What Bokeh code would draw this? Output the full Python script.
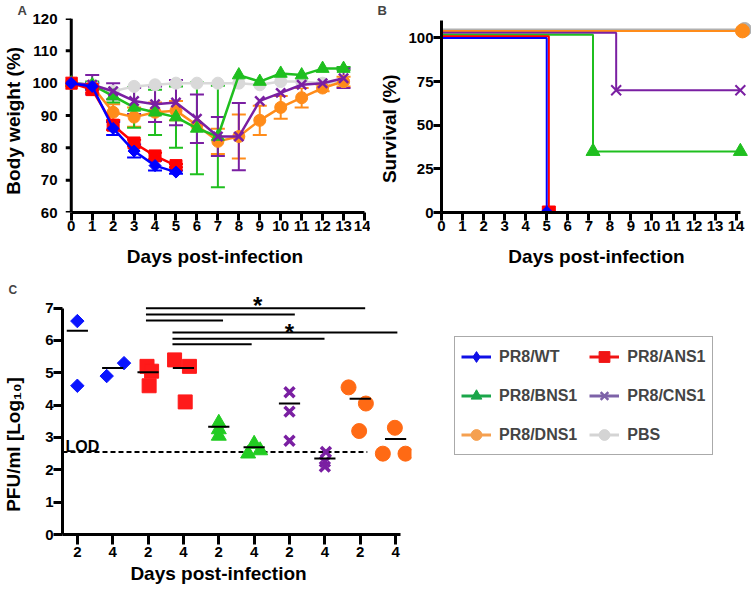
import math
from bokeh.plotting import figure
from bokeh.models import (Range1d, FixedTicker, ColumnDataSource, Whisker, TeeHead,
                          Legend, LegendItem)
from bokeh.layouts import column, row
from bokeh.embed import file_html
from bokeh.resources import INLINE
from bokeh.core.properties import value

FONT = "Liberation Sans"
NB = "\u00a0"  # used to nudge centred axis titles to where the original has them

# ---------------- data ----------------
groups = ["PR8/WT", "PR8/ANS1", "PR8/BNS1", "PR8/CNS1", "PR8/DNS1", "PBS"]

# Panel A: body weight (%) by day post-infection (mean, sd)
days = list(range(14))
a_xticks = list(range(15))
a_yticks = [60, 70, 80, 90, 100, 110, 120]
bw_WT = [100, 99, 86, 79, 74.5, 72.5]
bw_WT_sd = [0, 1, 2, 2, 1.5, 0.5]
bw_ANS1 = [100, 98, 87, 81.5, 77.5, 74.5]
bw_ANS1_sd = [0, 1, 1.5, 1, 1, 0.5]
bw_BNS1 = [100, 99.5, 96, 92.5, 91, 89.5, 86, 83.5, 102.5, 100.5, 103, 102.5, 104.5, 104.5]
bw_BNS1_sd = [0, 1, 2, 6.3, 7, 9.5, 14.2, 15.7, 0, 0, 0, 0, 0, 0.5]
bw_CNS1 = [100, 99.5, 97.5, 94.5, 93.5, 94, 89, 83.5, 83.5, 94.5, 97, 99.5, 100, 101.5]
bw_CNS1_sd = [0, 3, 2.5, 4, 5.5, 7, 7.5, 6, 10.4, 0, 0, 0, 0, 3]
bw_DNS1 = [100, 99, 91, 89.5, 91, 91.5, 87, 82, 83.5, 88.5, 92.5, 95.5, 98.5, 100.5]
bw_DNS1_sd = [0, 1, 2.5, 3, 3, 3, 0, 3.9, 6.8, 4.5, 3.5, 3, 1, 1.5]
bw_PBS = [100, 99.5, 97.5, 99, 99.5, 100, 100, 100, 100, 99.5, 100.5, 100.5, 100, 100.5]
bw_PBS_sd = [0] * 14

# Panel B: survival (%) step curves (staggered as in the original)
b_xticks = list(range(15))
b_yticks = [0, 25, 50, 75, 100]
sv_WT_t, sv_WT_y = [0, 5, 5], [100, 100, 0]
sv_ANS1_t, sv_ANS1_y = [0, 5.1, 5.1], [101, 101, 0]
sv_BNS1_t, sv_BNS1_y = [0, 7.2, 7.2, 14.2], [101.8, 101.8, 35, 35]
sv_CNS1_t, sv_CNS1_y = [0, 8.3, 8.3, 14.2], [103, 103, 70, 70]
sv_DNS1_t, sv_DNS1_y = [0, 14.3], [104, 104]
sv_PBS_t, sv_PBS_y = [0, 14.4], [104.8, 104.8]
sv_WT_mt, sv_WT_my = [5], [0]
sv_ANS1_mt, sv_ANS1_my = [5.1], [0]
sv_BNS1_mt, sv_BNS1_my = [7.2, 14.2], [35, 35]
sv_CNS1_mt, sv_CNS1_my = [8.3, 14.2], [70, 70]
sv_DNS1_mt, sv_DNS1_my = [14.3], [104]
sv_PBS_mt, sv_PBS_my = [14.4], [104.8]

# Panel C: lung titres PFU/ml [Log10]
c_positions = [1, 2, 3, 4, 5, 6, 7, 8, 9, 10]
c_tick_labels = ["2", "4", "2", "4", "2", "4", "2", "4", "2", "4"]
c_yticks = [0, 1, 2, 3, 4, 5, 6, 7]
c_WT_d2, c_WT_d2_off = [6.6, 4.6], [0, 0]
c_WT_d4, c_WT_d4_off = [4.9, 5.3], [-0.17, 0.32]
c_ANS1_d2, c_ANS1_d2_off = [5.2, 5.05, 4.6], [-0.03, 0.1, 0.03]
c_ANS1_d4, c_ANS1_d4_off = [5.4, 5.2, 4.1], [-0.25, 0.17, 0.05]
c_BNS1_d2, c_BNS1_d2_off = [3.45, 3.25, 3.05], [0, 0, 0]
c_BNS1_d4, c_BNS1_d4_off = [2.8, 2.5, 2.6], [0, -0.17, 0.17]
c_CNS1_d2, c_CNS1_d2_off = [4.4, 3.8, 2.9], [0, 0, 0]
c_CNS1_d4, c_CNS1_d4_off = [2.55, 2.25, 2.1], [0.03, 0, 0]
c_DNS1_d2, c_DNS1_d2_off = [4.55, 4.05, 3.2], [-0.33, 0.16, -0.03]
c_DNS1_d4, c_DNS1_d4_off = [3.3, 2.5, 2.5], [-0.02, -0.36, 0.28]
c_means = [6.3, 5.15, 5.02, 5.15, 3.33, 2.7, 4.05, 2.35, 4.2, 2.95]
c_LOD = 2.55
sig_x0 = [2.94, 2.94, 2.94, 3.69, 3.69, 3.69]
sig_x1 = [9.14, 7.15, 5.12, 10.05, 7.99, 5.93]
sig_y = [7.0, 6.8, 6.62, 6.25, 6.05, 5.88]
star_x = [6.1, 7.0]
star_y = [7.08, 6.26]

# ---------------- styles ----------------
col_A = {"PR8/WT": "#0000ff", "PR8/ANS1": "#ff0000", "PR8/BNS1": "#1fbf1f",
         "PR8/CNS1": "#7a1fa2", "PR8/DNS1": "#ff8c1a", "PBS": "#d9d9d9"}
col_C = {"PR8/WT": "#0a14ff", "PR8/ANS1": "#ff1a1a", "PR8/BNS1": "#22cc22",
         "PR8/CNS1": "#7a1fa2", "PR8/DNS1": "#ff6a14", "PBS": "#d9d9d9"}
col_L = {"PR8/WT": "#1010e6", "PR8/ANS1": "#f01414", "PR8/BNS1": "#1aa64a",
         "PR8/CNS1": "#7d62a8", "PR8/DNS1": "#f5a050", "PBS": "#d4d4d4"}
marker = {"PR8/WT": "diamond", "PR8/ANS1": "square", "PR8/BNS1": "triangle",
          "PR8/CNS1": "x", "PR8/DNS1": "circle", "PBS": "circle"}


def base_fig(w, h, xr, yr, l, r, t, b):
    p = figure(width=w, height=h, x_range=xr, y_range=yr, output_backend="svg",
               toolbar_location=None, min_border_left=l, min_border_right=r,
               min_border_top=t, min_border_bottom=b)
    p.grid.visible = False
    p.outline_line_color = None
    p.background_fill_color = "white"
    p.border_fill_color = "white"
    for ax in p.axis:
        ax.axis_line_width = 3
        ax.major_tick_line_width = 3
        ax.major_tick_out = 8
        ax.major_tick_in = 0
        ax.minor_tick_line_color = None
        ax.major_label_text_font = FONT
        ax.major_label_text_font_style = "bold"
        ax.major_label_text_font_size = "15px"
        ax.major_label_standoff = 0
        ax.axis_label_text_font = FONT
        ax.axis_label_text_font_style = "bold"
        ax.axis_label_text_font_size = "19px"
        ax.axis_label_standoff = 5
        ax.axis_label_text_color = "black"
        ax.major_label_text_color = "black"
    return p


def panel_letter(p, txt, offset, standoff, size="13px"):
    p.title.text = txt
    p.title.align = "left"
    p.title.offset = offset
    p.title.standoff = standoff
    p.title.text_font = FONT
    p.title.text_font_style = "bold"
    p.title.text_font_size = size


# ---------------- Panel A ----------------
pA = base_fig(370, 280, Range1d(-0.275, 14.0), Range1d(60, 120), 53, 6, 18, 68)
pA.xaxis.bounds = (0, 14)
pA.xaxis.ticker = FixedTicker(ticks=a_xticks)
pA.yaxis.ticker = FixedTicker(ticks=a_yticks)
pA.xaxis.axis_label = "Days post-infection"
pA.yaxis.axis_label = "Body weight (%)" + NB * 2
pA.xaxis.axis_label_standoff = 12
# the y axis sits at day 0 (inside the frame so the day-0 symbols are not cut)
pA.yaxis.axis_line_color = None
pA.yaxis.major_tick_line_color = None
pA.segment(x0=[0], x1=[0], y0=[a_yticks[0]], y1=[a_yticks[-1]], line_color="black", line_width=3)
pA.segment(x0=[-0.275] * len(a_yticks), x1=[0] * len(a_yticks), y0=a_yticks, y1=a_yticks,
           line_color="black", line_width=3)

bw = {"PR8/WT": (bw_WT, bw_WT_sd), "PR8/ANS1": (bw_ANS1, bw_ANS1_sd),
      "PR8/BNS1": (bw_BNS1, bw_BNS1_sd), "PR8/CNS1": (bw_CNS1, bw_CNS1_sd),
      "PR8/DNS1": (bw_DNS1, bw_DNS1_sd), "PBS": (bw_PBS, bw_PBS_sd)}
order_A = ["PBS", "PR8/DNS1", "PR8/BNS1", "PR8/CNS1", "PR8/ANS1", "PR8/WT"]
for g in order_A:
    vals, sd = bw[g]
    d = days[:len(vals)]
    c = col_A[g]
    idx = [i for i in range(len(vals)) if sd[i] > 0]
    if idx:
        src = ColumnDataSource(dict(base=[d[i] for i in idx],
                                    upper=[vals[i] + sd[i] for i in idx],
                                    lower=[vals[i] - sd[i] for i in idx]))
        pA.add_layout(Whisker(base="base", upper="upper", lower="lower", source=src,
                              dimension="height", line_color=c, line_width=2,
                              upper_head=TeeHead(size=14, line_color=c, line_width=2),
                              lower_head=TeeHead(size=14, line_color=c, line_width=2)))
    pA.line(d, vals, line_color=c, line_width=2.5)
    m = marker[g]
    if m == "x":
        pA.scatter(d, vals, marker="x", size=13, line_color=c, line_width=2.5)
    elif m == "diamond":
        pA.scatter(d, vals, marker="square", angle=math.pi / 4, size=8.5, fill_color=c, line_color=c)
    else:
        sz = {"square": 12, "triangle": 13, "circle": 12}[m]
        pA.scatter(d, vals, marker=m, size=sz, fill_color=c, line_color=c)
panel_letter(pA, "A", -48, 1)

# ---------------- Panel B ----------------
pB = base_fig(381, 280, Range1d(0, 14.73), Range1d(0, 111.1), 71, 0, 18, 68)
pB.xaxis.bounds = (0, 14.2)
pB.yaxis.bounds = (0, 110)
pB.xaxis.ticker = FixedTicker(ticks=b_xticks)
pB.yaxis.ticker = FixedTicker(ticks=b_yticks)
pB.xaxis.axis_label = "Days post-infection"
pB.yaxis.axis_label = "Survival (%)" + NB * 5
pB.xaxis.axis_label_standoff = 12

sv = {"PR8/WT": (sv_WT_t, sv_WT_y, sv_WT_mt, sv_WT_my),
      "PR8/ANS1": (sv_ANS1_t, sv_ANS1_y, sv_ANS1_mt, sv_ANS1_my),
      "PR8/BNS1": (sv_BNS1_t, sv_BNS1_y, sv_BNS1_mt, sv_BNS1_my),
      "PR8/CNS1": (sv_CNS1_t, sv_CNS1_y, sv_CNS1_mt, sv_CNS1_my),
      "PR8/DNS1": (sv_DNS1_t, sv_DNS1_y, sv_DNS1_mt, sv_DNS1_my),
      "PBS": (sv_PBS_t, sv_PBS_y, sv_PBS_mt, sv_PBS_my)}
order_B = ["PBS", "PR8/DNS1", "PR8/CNS1", "PR8/BNS1", "PR8/ANS1", "PR8/WT"]
for g in order_B:
    t, y, mt, my = sv[g]
    c = "#b0b0b0" if g == "PBS" else col_A[g]
    pB.line(t, y, line_color=c, line_width=2)
    m = marker[g]
    if m == "x":
        pB.scatter(mt, my, marker="x", size=14, line_color=c, line_width=2)
    elif m == "diamond":
        pB.scatter(mt, my, marker="square", angle=math.pi / 4, size=9, fill_color=c, line_color=c)
    else:
        sz = {"square": 13, "triangle": 14, "circle": 14}[m]
        pB.scatter(mt, my, marker=m, size=sz, fill_color=c, line_color=c)
panel_letter(pB, "B", -64, 1)

# ---------------- Panel C ----------------
pC = base_fig(420, 309, Range1d(0.58, 10.45), Range1d(0, 7.36), 59, 9, 14, 55)
pC.xaxis.bounds = (0.58, 10.14)
pC.yaxis.bounds = (0, 7)
pC.xaxis.ticker = FixedTicker(ticks=c_positions)
pC.xaxis.major_label_overrides = {pos: lab for pos, lab in zip(c_positions, c_tick_labels)}
pC.yaxis.ticker = FixedTicker(ticks=c_yticks)
pC.xaxis.major_tick_out = 10
pC.yaxis.major_tick_out = 9
pC.xaxis.major_label_standoff = 2
pC.xaxis.axis_label = "Days post-infection" + NB * 7
pC.xaxis.axis_label_standoff = 3
pC.yaxis.axis_label = "PFU/ml [Log₁₀]" + NB * 11
pC.yaxis.axis_label_standoff = 18

c_sets = [("PR8/WT", c_WT_d2, c_WT_d2_off), ("PR8/WT", c_WT_d4, c_WT_d4_off),
          ("PR8/ANS1", c_ANS1_d2, c_ANS1_d2_off), ("PR8/ANS1", c_ANS1_d4, c_ANS1_d4_off),
          ("PR8/BNS1", c_BNS1_d2, c_BNS1_d2_off), ("PR8/BNS1", c_BNS1_d4, c_BNS1_d4_off),
          ("PR8/CNS1", c_CNS1_d2, c_CNS1_d2_off), ("PR8/CNS1", c_CNS1_d4, c_CNS1_d4_off),
          ("PR8/DNS1", c_DNS1_d2, c_DNS1_d2_off), ("PR8/DNS1", c_DNS1_d4, c_DNS1_d4_off)]

pC.line([0.58, 9.2], [c_LOD, c_LOD], line_color="black", line_width=2, line_dash="5 3")
pC.text([0.664], [2.73], text=["LOD"], text_font=value(FONT), text_font_style="bold",
        text_font_size="16px", text_baseline="alphabetic", text_align="left")

for pos, (g, vals, off) in zip(c_positions, c_sets):
    c = col_C[g]
    xs = [pos + o for o in off]
    m = marker[g]
    if m == "x":
        pC.scatter(xs, vals, marker="x", size=14, line_color=c, line_width=3.5)
    elif m == "diamond":
        pC.scatter(xs, vals, marker="square", angle=math.pi / 4, size=9.5, fill_color=c, line_color=c)
    else:
        sz = {"square": 14, "triangle": 15, "circle": 15}[m]
        pC.scatter(xs, vals, marker=m, size=sz, fill_color=c, line_color=c)

pC.segment(x0=[p - 0.3 for p in c_positions], x1=[p + 0.3 for p in c_positions],
           y0=c_means, y1=c_means, line_color="black", line_width=2)
pC.segment(x0=sig_x0, x1=sig_x1, y0=sig_y, y1=sig_y, line_color="black", line_width=2)
pC.text(star_x, star_y, text=["*", "*"], text_font=value(FONT), text_font_style="bold",
        text_font_size="24px", text_baseline="middle", text_align="center")
panel_letter(pC, "C", -54, 0, "12px")

# ---------------- Legend ----------------
pL = figure(width=331, height=309, x_range=Range1d(0, 1), y_range=Range1d(0, 1),
            output_backend="svg", toolbar_location=None, min_border_left=0,
            min_border_right=0, min_border_top=14, min_border_bottom=55,
            x_axis_location=None, y_axis_location=None)
pL.grid.visible = False
pL.outline_line_color = None
items = []
for g in groups:
    c = col_L[g]
    lr = pL.line([-10, -9], [-10, -10], line_color=c, line_width=3)
    m = marker[g]
    if m == "x":
        sr = pL.scatter([-10], [-10], marker="x", size=12, line_color=c, line_width=2.5)
    else:
        sr = pL.scatter([-10], [-10], marker=m, size=12, fill_color=c, line_color=c)
    items.append(LegendItem(label=g, renderers=[lr, sr]))
leg = Legend(items=items, location=(34, 79), orientation="horizontal", ncols=2,
             label_text_font=FONT, label_text_font_style="bold", label_text_font_size="16px",
             glyph_width=30, glyph_height=27, label_height=27, spacing=12, padding=6,
             margin=0, label_standoff=8, border_line_color="#555555", border_line_width=1.5,
             background_fill_color="white", background_fill_alpha=1.0)
pL.add_layout(leg)

layout = column(row(pA, pB), row(pC, pL))
open("out.html", "w").write(file_html(layout, INLINE))
